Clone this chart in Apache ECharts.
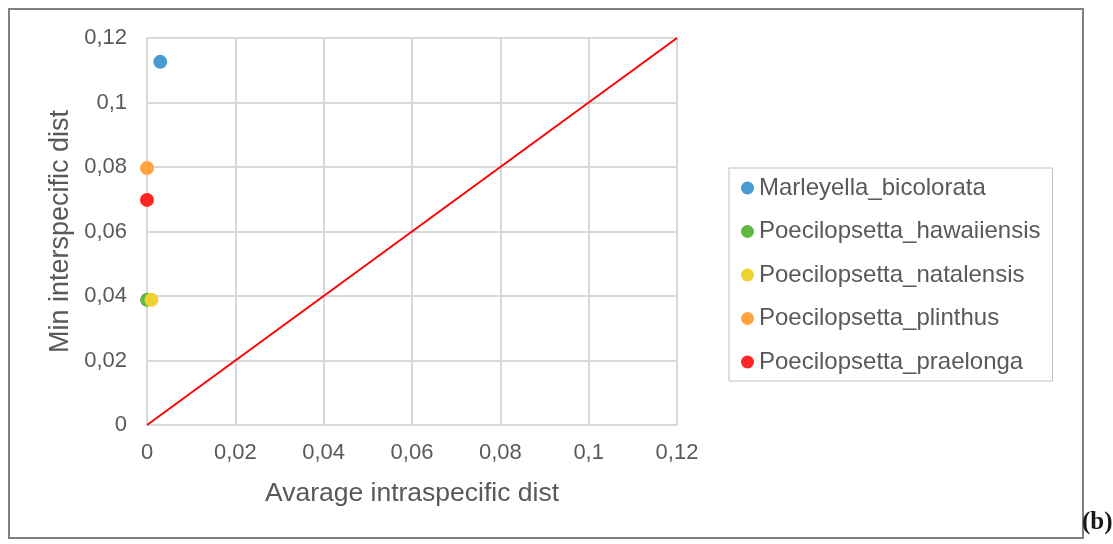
<!DOCTYPE html>
<html>
<head>
<meta charset="utf-8">
<script src="https://cdn.jsdelivr.net/npm/echarts@6/dist/echarts.min.js"></script>
<style>
html,body{margin:0;padding:0;background:#fff;}
#chart{width:1113px;height:544px;}
</style>
</head>
<body>
<div id="chart"></div>
<script>
const species = ['Marleyella_bicolorata','Poecilopsetta_hawaiiensis','Poecilopsetta_natalensis','Poecilopsetta_plinthus','Poecilopsetta_praelonga'];
const intraDist = [0.003, 0.0, 0.001, 0.0, 0.0];
const interDist = [0.1126, 0.0388, 0.0388, 0.0797, 0.0698];
const colors = ['#4a9bd3','#5fb840','#f0d232','#ffa43a','#ff2424'];
const lineX = [0, 0.12];
const lineY = [0, 0.12];
const xName = 'Avarage intraspecific dist';
const yName = 'Min interspecific dist';

const FONT = 'Liberation Sans, Arial, sans-serif';
const fmt = v => String(parseFloat((+v).toFixed(4))).replace('.', ',');
const chart = echarts.init(document.getElementById('chart'));
const series = species.map((s, i) => ({
  name: s, type: 'scatter', symbol: 'circle', symbolSize: 14,
  itemStyle: {color: colors[i], opacity: 1},
  data: [[intraDist[i], interDist[i]]], z: 3
}));
series.push({
  name: 'line', type: 'line', symbol: 'none', silent: true,
  lineStyle: {color: '#ff0000', width: 2},
  data: lineX.map((x, i) => [x, lineY[i]]), z: 2
});
chart.setOption({
  animation: false,
  grid: {left: 147, right: 436, top: 38, bottom: 119},
  xAxis: {
    type: 'value', min: 0, max: 0.12, interval: 0.02,
    name: xName, nameLocation: 'middle', nameGap: 55,
    nameTextStyle: {fontSize: 26.5, color: '#595959', fontFamily: FONT},
    axisLine: {show: false}, axisTick: {show: false},
    axisLabel: {formatter: fmt, fontSize: 22, color: '#595959', margin: 17, fontFamily: FONT},
    splitLine: {show: true, lineStyle: {color: '#d9d9d9', width: 2}}
  },
  yAxis: {
    type: 'value', min: 0, max: 0.12, interval: 0.02,
    name: yName, nameLocation: 'middle', nameGap: 73,
    nameTextStyle: {fontSize: 27, color: '#595959', fontFamily: FONT},
    axisLine: {show: false}, axisTick: {show: false},
    axisLabel: {formatter: fmt, fontSize: 22, color: '#595959', margin: 20, fontFamily: FONT},
    splitLine: {show: true, lineStyle: {color: '#d9d9d9', width: 2}}
  },
  legend: {
    data: species, orient: 'vertical', left: 729, top: 168,
    borderColor: '#bfbfbf', borderWidth: 1,
    padding: [8, 12, 7, 12],
    icon: 'circle', itemWidth: 13, itemHeight: 13, itemGap: 19.5,
    textStyle: {fontSize: 24, lineHeight: 24, color: '#595959', fontFamily: FONT}
  },
  graphic: [
    {type: 'rect', shape: {x: 9, y: 9, width: 1074, height: 529}, style: {fill: null, stroke: '#808080', lineWidth: 2}, silent: true},
    {type: 'text', left: 1082, top: 510, style: {text: '(b)', fontSize: 25, fontWeight: 'bold', fontFamily: 'Liberation Serif, serif', fill: '#1a1a1a'}}
  ],
  series: series
});
</script>
</body>
</html>
